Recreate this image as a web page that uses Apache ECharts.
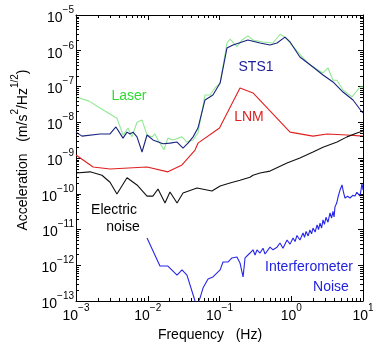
<!DOCTYPE html>
<html>
<head>
<meta charset="utf-8">
<script src="https://cdn.jsdelivr.net/npm/echarts@6/dist/echarts.min.js"></script>
<style>
html,body{margin:0;padding:0;background:#fff}
#chart{width:391px;height:351px}
</style>
</head>
<body>
<div id="chart"></div>
<script>
// frequencies in Hz, accelerations in m/s^2/Hz^1/2
var laserFreq = [1e-3, 1.52e-3, 2.16e-3, 3.72e-3, 4.52e-3, 5.31e-3, 6.03e-3, 7.08e-3, 8.32e-3, 9.77e-3,
    1.15e-2, 1.26e-2, 1.39e-2, 1.68e-2, 1.91e-2, 2.25e-2, 3.0e-2, 3.52e-2, 4.28e-2, 5.01e-2,
    6.28e-2, 7.38e-2, 8.65e-2, 0.102, 0.127, 0.14, 0.175, 0.206, 0.249, 0.293,
    0.404, 0.557, 0.697, 0.818, 0.962, 1.46, 1.82, 2.36, 2.77, 3.25,
    3.82, 4.35, 5.26, 7.03, 9.09, 10];
var laserAmp = [5.1e-8, 3.9e-8, 2.5e-8, 1.3e-8, 4.4e-9, 6.9e-9, 3.9e-9, 1.0e-8, 1.15e-8, 4.4e-9,
    3.9e-9, 4.7e-9, 3.2e-9, 1.7e-9, 3.6e-9, 3.2e-9, 3.9e-9, 2.8e-9, 3.2e-9, 5.0e-9,
    5.8e-8, 5.8e-8, 9.1e-8, 1.25e-7, 1.65e-6, 2.1e-6, 1.3e-6, 2.0e-6, 2.6e-6, 2.0e-6,
    1.76e-6, 1.65e-6, 2.9e-6, 2.4e-6, 1.65e-6, 6.3e-7, 4.0e-7, 2.9e-7, 2.4e-7, 3.3e-7,
    1.5e-7, 1.5e-7, 8.0e-8, 5.1e-8, 9.7e-8, 9.7e-8];

var sts1Freq = [1e-3, 1.21e-3, 2.16e-3, 2.98e-3, 3.6e-3, 4.52e-3, 5.14e-3, 5.66e-3, 6.23e-3, 7.08e-3,
    8.32e-3, 9.77e-3, 1.18e-2, 1.63e-2, 2.04e-2, 2.56e-2, 3.1e-2, 3.64e-2, 4.28e-2, 5.01e-2,
    6.28e-2, 8.1e-2, 0.102, 0.127, 0.154, 0.206, 0.249, 0.367, 0.506, 0.633,
    0.818, 0.962, 1.32, 2.01, 2.77, 3.82, 5.26, 7.26, 9.68, 10];
var sts1Amp = [5.3e-9, 4.1e-9, 4.7e-9, 4.7e-9, 7.4e-9, 3.6e-9, 5.3e-9, 4.7e-9, 5.3e-9, 3.9e-9,
    1.47e-9, 4.4e-9, 3.2e-9, 2.5e-9, 2.6e-9, 2.8e-9, 1.9e-9, 2.6e-9, 3.9e-9, 6.9e-9,
    4.2e-8, 5.8e-8, 1.25e-7, 1.19e-6, 1.45e-6, 1.76e-6, 2.0e-6, 1.65e-6, 1.45e-6, 1.65e-6,
    2.4e-6, 1.76e-6, 6.7e-7, 3.5e-7, 2.1e-7, 1.34e-7, 7.0e-8, 4.2e-8, 1.94e-8, 1.82e-8];

var lnmFreq = [1e-3, 1.73e-3, 2.98e-3, 9.77e-3, 1.91e-2, 3.0e-2, 4.56e-2, 5.01e-2, 0.1, 0.193,
    0.293, 0.962, 2.01, 3.15, 5.98, 10];
var lnmAmp = [1.21e-9, 5.6e-10, 4.9e-10, 5.6e-10, 4.1e-10, 6.4e-10, 1.67e-9, 2.6e-9, 6.9e-9, 9.1e-8,
    6.6e-8, 5.3e-9, 4.1e-9, 4.7e-9, 4.4e-9, 4.1e-9];

var elecFreq = [1e-3, 1.57e-3, 2.3e-3, 2.98e-3, 3.72e-3, 5.14e-3, 7.08e-3, 9.77e-3, 1.18e-2, 1.39e-2,
    1.74e-2, 2.04e-2, 2.56e-2, 3.1e-2, 4.86e-2, 6.7e-2, 7.85e-2, 0.102, 0.14, 0.193,
    0.266, 0.293, 0.367, 0.506, 0.873, 1.32, 2.01, 2.77, 4.35, 5.98, 8.25, 10];
var elecAmp = [3.8e-10, 4.1e-10, 3.3e-10, 2.1e-10, 9.8e-11, 2.8e-10, 1.76e-10, 8.6e-11, 8.6e-11, 1.36e-10,
    5.5e-11, 1.12e-10, 5.5e-11, 1.05e-10, 1.45e-10, 1.27e-10, 1.19e-10, 1.65e-10, 2.0e-10, 2.4e-10,
    2.9e-10, 3.3e-10, 3.8e-10, 4.3e-10, 7.2e-10, 1.0e-9, 1.47e-9, 2.0e-9, 2.8e-9, 3.9e-9, 5.0e-9, 5.7e-9];

var ifoFreq = [9.77e-3, 1.48e-2, 1.91e-2, 2.56e-2, 3.0e-2, 3.52e-2, 4.56e-2, 4.86e-2, 5.35e-2, 5.89e-2,
    6.92e-2, 8.1e-2, 0.102, 0.112, 0.131, 0.149, 0.175, 0.193, 0.213, 0.227,
    0.266, 0.293, 0.313, 0.333, 0.367, 0.404, 0.431, 0.459, 0.506, 0.557,
    0.633, 0.697, 0.767, 0.873, 0.962, 1.06, 1.13, 1.2, 1.32, 1.46,
    1.53, 1.61, 1.72, 1.82, 1.92, 2.01, 2.15, 2.29, 2.4, 2.52,
    2.65, 2.77, 2.9, 3.05, 3.25, 3.47, 3.65, 3.82, 3.95, 4.07,
    4.3, 4.49, 4.8, 5.1, 5.35, 5.61, 6.1, 6.59, 7.2, 7.74,
    8.2, 8.52, 9.09, 9.4, 9.68, 10];
var ifoAmp = [5.8e-12, 9.5e-13, 9.5e-13, 5.3e-13, 7.4e-13, 5.3e-13, 1.0e-13, 7.7e-14, 1.21e-13, 2.3e-13,
    4.1e-13, 4.7e-13, 7.4e-13, 1.23e-12, 1.23e-12, 1.6e-12, 1.7e-12, 1.16e-12, 4.7e-13, 1.6e-12,
    2.2e-12, 2.7e-12, 1.94e-12, 2.7e-12, 2.2e-12, 3.0e-12, 2.07e-12, 2.2e-12, 3.2e-12, 2.7e-12,
    3.2e-12, 4.2e-12, 3.0e-12, 5.1e-12, 3.9e-12, 5.8e-12, 4.6e-12, 6.8e-12, 5.1e-12, 8.0e-12,
    6.0e-12, 8.8e-12, 6.6e-12, 9.7e-12, 7.6e-12, 1.1e-11, 8.5e-12, 1.34e-11, 1.0e-11, 1.5e-11,
    1.1e-11, 1.85e-11, 1.4e-11, 2.2e-11, 1.6e-11, 2.9e-11, 2.1e-11, 3.2e-11, 2.24e-11, 4.3e-11,
    5.5e-11, 8.1e-11, 1.3e-10, 1.76e-10, 1.1e-10, 7.6e-11, 8.5e-11, 7.6e-11, 9.0e-11, 8.6e-11,
    1.1e-10, 1.05e-10, 8.6e-11, 1.3e-10, 2.0e-10, 1.27e-10];

var xMin = 1e-3, xMax = 10;
var yMin = 1e-13, yMax = 1e-5;
var minorMult = [2, 3, 4, 5, 6, 7, 8, 9];
var xDecades = [1e-3, 1e-2, 1e-1, 1];
var yDecades = [1e-13, 1e-12, 1e-11, 1e-10, 1e-9, 1e-8, 1e-7, 1e-6];

var FONT = '"Liberation Sans", Arial, Helvetica, sans-serif';

function zip(a, b) {
    var out = [];
    for (var i = 0; i < a.length; i++) out.push([a[i], b[i]]);
    return out;
}

// minor tick positions for the log axes
var xMinor = [], yMinor = [];
xDecades.forEach(function (d) { minorMult.forEach(function (m) { xMinor.push([m * d, yMin]); }); });
yDecades.forEach(function (d) { minorMult.forEach(function (m) { yMinor.push([xMin, m * d]); }); });

function powLabel(v) {
    var e = Math.round(Math.log10(v));
    var s = e < 0 ? '\u2212' + (-e) : '' + e;
    return '{b|10}{s|' + s + '}';
}

var labelRich = {
    b: { fontSize: 14, fontFamily: FONT, color: '#000', lineHeight: 20, verticalAlign: 'bottom' },
    s: { fontSize: 10, fontFamily: FONT, color: '#000', lineHeight: 20, verticalAlign: 'top' }
};

var dom = document.getElementById('chart');
var myChart = echarts.init(dom, null, { renderer: 'canvas' });

function logAxis(pos, min, max, split, showLabel, extra) {
    var ax = {
        type: 'log',
        logBase: 10,
        position: pos,
        min: min,
        max: max,
        splitNumber: split,
        axisLine: { show: true, onZero: false, lineStyle: { color: '#000', width: 1 } },
        axisTick: { show: true, inside: true, length: 5, lineStyle: { color: '#000', width: 1 } },
        splitLine: { show: false },
        axisLabel: {
            show: showLabel,
            margin: 2,
            formatter: powLabel,
            rich: labelRich
        }
    };
    for (var k in extra) ax[k] = extra[k];
    return ax;
}

function minorTicks(kind) {
    return function (params, api) {
        var v0 = api.value(0), v1 = api.value(1);
        var len = 3;
        var style = { stroke: '#000', lineWidth: 1 };
        if (kind === 'x') {
            var b = api.coord([v0, yMin]), t = api.coord([v0, yMax]);
            var x = Math.round(b[0]) + 0.5;
            return { type: 'group', children: [
                { type: 'line', shape: { x1: x, y1: b[1], x2: x, y2: b[1] - len }, style: style },
                { type: 'line', shape: { x1: x, y1: t[1], x2: x, y2: t[1] + len }, style: style }
            ] };
        }
        var l = api.coord([xMin, v1]), r = api.coord([xMax, v1]);
        var y = Math.round(l[1]) + 0.5;
        return { type: 'group', children: [
            { type: 'line', shape: { x1: l[0], y1: y, x2: l[0] + len, y2: y }, style: style },
            { type: 'line', shape: { x1: r[0], y1: y, x2: r[0] - len, y2: y }, style: style }
        ] };
    };
}

function curve(name, f, a, color) {
    return {
        name: name,
        type: 'line',
        data: zip(f, a),
        showSymbol: false,
        symbol: 'none',
        smooth: false,
        clip: true,
        lineStyle: { color: color, width: 1.1 },
        z: 3
    };
}

function label(text, x, y, color) {
    return {
        type: 'text',
        x: x, y: y,
        style: { text: text, fill: color, font: '14px ' + FONT, textAlign: 'center', textVerticalAlign: 'middle' },
        z: 10
    };
}

var option = {
    animation: false,
    backgroundColor: '#fff',
    grid: { left: 76, right: 28, top: 15, bottom: 50, show: false },
    xAxis: [
        logAxis('bottom', xMin, xMax, 4, true, {
            name: 'Frequency   (Hz)',
            nameLocation: 'middle',
            nameGap: 25,
            nameTextStyle: { fontSize: 14, fontFamily: FONT, color: '#000', padding: [0, 19, 0, 0] }
        }),
        logAxis('top', xMin, xMax, 4, false, {})
    ],
    yAxis: [
        logAxis('left', yMin, yMax, 8, true, {
            name: '{a|Acceleration   (m/s}{s|2}{a|/Hz}{s|1/2}{a|)}',
            nameLocation: 'middle',
            nameGap: 38,
            nameRotate: 90,
            nameTextStyle: {
                padding: [0, 0, 0, 16],
                rich: {
                    a: { fontSize: 14, fontFamily: FONT, color: '#000', lineHeight: 20, verticalAlign: 'bottom' },
                    s: { fontSize: 10, fontFamily: FONT, color: '#000', lineHeight: 20, verticalAlign: 'top' }
                }
            }
        }),
        logAxis('right', yMin, yMax, 8, false, {})
    ],
    series: [
        curve('Laser', laserFreq, laserAmp, '#93e893'),
        curve('STS1', sts1Freq, sts1Amp, '#1a237e'),
        curve('LNM', lnmFreq, lnmAmp, '#e02020'),
        curve('Electric noise', elecFreq, elecAmp, '#111111'),
        curve('Interferometer Noise', ifoFreq, ifoAmp, '#2626e6'),
        { type: 'custom', renderItem: minorTicks('x'), data: xMinor, silent: true, z: 5 },
        { type: 'custom', renderItem: minorTicks('y'), data: yMinor, silent: true, z: 5 }
    ],
    graphic: [
        label('Laser', 129, 96, '#2edc2e'),
        label('STS1', 256, 67, '#1c1c9a'),
        label('LNM', 249, 117, '#e02020'),
        label('Electric', 114, 210, '#000'),
        label('noise', 123, 227, '#000'),
        label('Interferometer', 309, 267, '#2222e0'),
        label('Noise', 331, 287, '#2222e0')
    ]
};

myChart.setOption(option);
</script>
</body>
</html>
